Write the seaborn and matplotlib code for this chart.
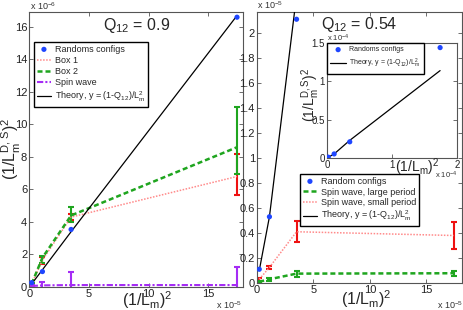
import numpy as np
import pandas as pd
import matplotlib
matplotlib.use("Agg")
import matplotlib.pyplot as plt
import seaborn as sns

# x positions, (1/L_m)^2 in units of 1e-5
x_pts = [0.2, 1.1, 3.5, 17.4]

# left panel, Q12 = 0.9 (units of 1e-6)
rand_09 = [0.27, 0.95, 3.54, 16.6]
theory_09 = [0.19, 1.06, 3.4, 16.7]
box1 = [0.2, 1.65, 4.3, 6.8]
box1_lo = [0.05, 0.22, 0.2, 1.14]
box1_hi = [0.05, 0.17, 0.2, 1.4]
box2 = [0.2, 1.8, 4.4, 8.6]
box2_lo = [0.05, 0.3, 0.4, 1.65]
box2_hi = [0.05, 0.12, 0.55, 2.5]
spin = [0.06, 0.1, 0.12, 0.12]
spin_err = [0.05, 0.23, 0.8, 1.1]

# right panel, Q12 = 0.54 (units of 1e-5)
rand_054 = [0.11, 0.53, 2.11, 14.4]
theory_054 = [0.10, 0.53, 2.3, 11.4]
sw_large = [0.01, 0.03, 0.075, 0.078]
sw_large_err = [0.008, 0.01, 0.025, 0.022]
sw_small = [0.03, 0.125, 0.41, 0.38]
sw_small_err = [0.012, 0.015, 0.085, 0.11]

BLUE = "#1e46ff"
RED = "#ee1111"
PINK = "#ff8a8a"
GREEN = "#1fa51f"
PURPLE = "#a52cf5"

sns.set_theme(style="ticks")
plt.rcParams["font.family"] = ["Liberation Sans", "DejaVu Sans"]
plt.rcParams["mathtext.default"] = "regular"
plt.rcParams["axes.edgecolor"] = "#555555"
plt.rcParams["axes.linewidth"] = 0.8

W, H = 463, 310
fig = plt.figure(figsize=(W / 100, H / 100), dpi=100)


def rect(l, t, r, b):
    return [l / W, 1 - b / H, (r - l) / W, (b - t) / H]


def style_axis(ax, size=8):
    ax.tick_params(direction="in", length=3, width=0.6, top=True, right=True,
                   labelsize=size, colors="#555555", labelcolor="#222222", pad=1.5)
    for s in ax.spines.values():
        s.set_visible(True)


theory_lbl = "Theory, y = (1-Q$_{12}$)/L$_m^2$"

# ---------- left panel ----------
axL = fig.add_axes(rect(29.3, 12, 243, 287))
df = pd.DataFrame({"x": x_pts, "box1": box1, "box2": box2, "spin": spin,
                   "theory": theory_09, "rand": rand_09})
axL.errorbar(x_pts, box1, yerr=[box1_lo, box1_hi], fmt="none", ecolor=RED,
             elinewidth=1.5, capsize=2.5, capthick=1.5, zorder=2)
axL.errorbar(x_pts, box2, yerr=[box2_lo, box2_hi], fmt="none", ecolor=GREEN,
             elinewidth=1.5, capsize=2.5, capthick=1.5, zorder=2)
axL.errorbar(x_pts, spin, yerr=spin_err, fmt="none", ecolor=PURPLE,
             elinewidth=1.5, capsize=2.5, capthick=1.5, zorder=2)
sns.scatterplot(data=df, x="x", y="rand", ax=axL, color=BLUE, s=14,
                edgecolor="none", label="Randoms configs", zorder=5)
sns.lineplot(data=df, x="x", y="box1", ax=axL, color=PINK, lw=1.1,
             linestyle=(0, (1, 1)), label="Box 1", zorder=3)
sns.lineplot(data=df, x="x", y="box2", ax=axL, color=GREEN, lw=1.8,
             linestyle=(0, (2, 1.2)), label="Box 2", zorder=3)
sns.lineplot(data=df, x="x", y="spin", ax=axL, color=PURPLE, lw=1.5,
             linestyle=(0, (3, 1, 1, 1)), label="Spin wave", zorder=3)
sns.lineplot(data=df, x="x", y="theory", ax=axL, color="black", lw=0.9,
             label=theory_lbl, zorder=4)
axL.set_xlim(0, 17.9)
axL.set_ylim(0, 16.92)
axL.set_xticks([0, 5, 10, 15])
axL.set_yticks(range(0, 17, 2))
axL.set_xlabel("")
axL.set_ylabel("")
style_axis(axL)
axL.text(0.5, 0.985, "Q$_{12}$ = 0.9", transform=axL.transAxes, ha="center",
         va="top", fontsize=11.5)
axL.legend(loc="upper left", bbox_to_anchor=(34 / W, 1 - 42 / H),
           bbox_transform=fig.transFigure, fontsize=6.5, frameon=True,
           fancybox=False, edgecolor="black", framealpha=1,
           handlelength=1.6, handletextpad=0.4, labelspacing=0.25,
           borderpad=0.3, borderaxespad=0)

# ---------- right panel ----------
axR = fig.add_axes(rect(257, 12, 461.5, 283))
dfr = pd.DataFrame({"x": x_pts, "rand": rand_054, "large": sw_large,
                    "small": sw_small, "theory": theory_054})
axR.errorbar(x_pts, sw_small, yerr=sw_small_err, fmt="none", ecolor=RED,
             elinewidth=1.5, capsize=2.5, capthick=1.5, zorder=2)
axR.errorbar(x_pts, sw_large, yerr=sw_large_err, fmt="none", ecolor=GREEN,
             elinewidth=1.5, capsize=2.5, capthick=1.5, zorder=2)
sns.scatterplot(data=dfr, x="x", y="rand", ax=axR, color=BLUE, s=14,
                edgecolor="none", label="Random configs", zorder=5)
sns.lineplot(data=dfr, x="x", y="large", ax=axR, color=GREEN, lw=1.8,
             linestyle=(0, (2, 1.2)), label="Spin wave, large period", zorder=3)
sns.lineplot(data=dfr, x="x", y="small", ax=axR, color=PINK, lw=1.1,
             linestyle=(0, (1, 1)), label="Spin wave, small period", zorder=3)
sns.lineplot(data=dfr, x="x", y="theory", ax=axR, color="black", lw=0.9,
             label=theory_lbl, zorder=4)
axR.set_xlim(0, 18.1)
axR.set_ylim(0, 2.168)
axR.set_xticks([0, 5, 10, 15])
axR.set_yticks(np.arange(0, 2.01, 0.2))
axR.set_yticklabels(["0", "0.2", "0.4", "0.6", "0.8", "1", "1.2", "1.4",
                     "1.6", "1.8", "2"])
axR.set_xlabel("")
axR.set_ylabel("")
style_axis(axR)
axR.text(0.5, 0.99, "Q$_{12}$ = 0.54", transform=axR.transAxes, ha="center",
         va="top", fontsize=11.5)
axR.legend(loc="upper left", bbox_to_anchor=(300 / W, 1 - 174 / H),
           bbox_transform=fig.transFigure, fontsize=6.5, frameon=True,
           fancybox=False, edgecolor="black", framealpha=1,
           handlelength=1.6, handletextpad=0.4, labelspacing=0.2,
           borderpad=0.3, borderaxespad=0)

# ---------- inset ----------
axI = fig.add_axes(rect(327, 43, 457, 158))
dfi = pd.DataFrame({"x": [v / 10 for v in x_pts],
                    "rand": [v / 10 for v in rand_054],
                    "theory": [v / 10 for v in theory_054]})
sns.scatterplot(data=dfi, x="x", y="rand", ax=axI, color=BLUE, s=14,
                edgecolor="none", label="Randoms configs", zorder=5)
sns.lineplot(data=dfi, x="x", y="theory", ax=axI, color="black", lw=0.9,
             label=theory_lbl, zorder=4)
axI.set_xlim(0, 2)
axI.set_ylim(0, 1.5)
axI.set_xticks([0, 1, 2])
axI.set_xticklabels(["0", "1", "2"])
axI.set_yticks([0, 0.5, 1, 1.5])
axI.set_yticklabels(["0", "0.5", "1", "1.5"])
axI.set_xlabel("")
axI.set_ylabel("")
style_axis(axI, size=7)
axI.legend(loc="upper left", fontsize=5, frameon=True, fancybox=False,
           edgecolor="black", framealpha=1, handlelength=2.2,
           handletextpad=0.5, labelspacing=0.5, borderpad=0.5,
           borderaxespad=0)

# ---------- labels and multipliers ----------
lab = "(1/L$_m$)$^2$"
fig.text(147 / W, 1 - 300 / H, lab, ha="center", va="center", fontsize=11.5)
fig.text(366 / W, 1 - 299 / H, lab, ha="center", va="center", fontsize=11.5)
fig.text(417 / W, 1 - 167 / H, lab, ha="center", va="center", fontsize=10)
fig.text(11.5 / W, 1 - 149 / H, "(1/L$_m^{D,S}$)$^2$", ha="center", va="center",
         rotation=90, fontsize=11.5)
fig.text(311 / W, 1 - 95 / H, "(1/L$_m^{D,S}$)$^2$", ha="center", va="center",
         rotation=90, fontsize=10)

small = dict(fontsize=6.5, color="#333333")
fig.text(30 / W, 1 - 6 / H, "x 10$^{-6}$", ha="left", va="center", **small)
fig.text(257 / W, 1 - 5 / H, "x 10$^{-5}$", ha="left", va="center", **small)
fig.text(216 / W, 1 - 305 / H, "x 10$^{-5}$", ha="left", va="center", **small)
fig.text(437 / W, 1 - 305 / H, "x 10$^{-5}$", ha="left", va="center", **small)
fig.text(327 / W, 1 - 38 / H, "x 10$^{-4}$", ha="left", va="center",
         fontsize=5.5, color="#333333")
fig.text(435 / W, 1 - 175 / H, "x 10$^{-4}$", ha="left", va="center",
         fontsize=5.5, color="#333333")

fig.savefig("out.png", dpi=100)
